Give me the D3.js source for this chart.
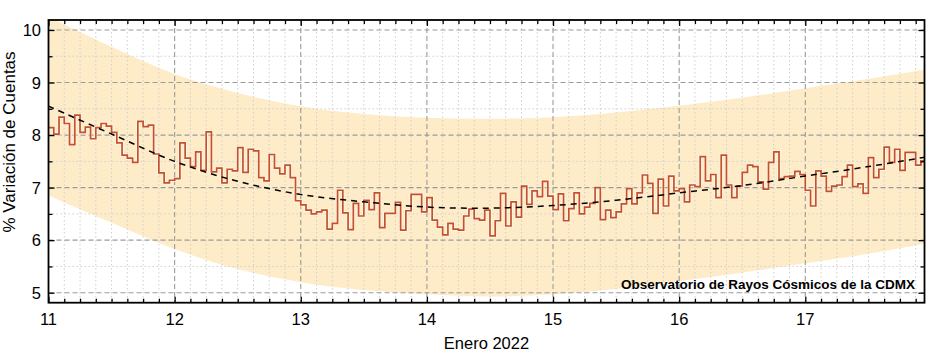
<!DOCTYPE html>
<html>
<head>
<meta charset="utf-8">
<script src="https://cdn.jsdelivr.net/npm/d3@7"></script>
<style>
  html, body { margin: 0; padding: 0; background: #fff; }
  text { font-family: "Liberation Sans", Arial, sans-serif; }
</style>
</head>
<body>
<svg id="chart" width="936" height="355"></svg>
<script>
// ---- data ----
const startDay = 11;              // Enero 11, 2022, 00:00
const hourlyValues = [
  // Jan 11
  8.14, 8.02, 8.34, 8.22, 7.82, 8.38, 8.05, 8.15, 7.93, 8.14, 8.22, 8.17,
  8.05, 7.85, 7.62, 7.56, 7.48, 8.26, 8.16, 8.19, 7.64, 7.28, 7.09, 7.14,
  // Jan 12
  7.17, 7.85, 7.56, 7.40, 7.68, 7.33, 8.06, 7.30, 7.37, 7.09, 7.35, 7.32,
  7.76, 7.29, 7.73, 7.70, 7.19, 7.13, 7.63, 7.37, 7.26, 7.43, 7.19, 6.75,
  // Jan 13
  6.67, 6.57, 6.50, 6.54, 6.57, 6.21, 6.32, 6.95, 6.52, 6.20, 6.70, 6.46,
  6.76, 6.58, 6.90, 6.24, 6.51, 6.51, 6.72, 6.19, 6.56, 6.87, 6.87, 6.54,
  // Jan 14
  6.81, 6.38, 6.25, 6.10, 6.32, 6.21, 6.19, 6.46, 6.59, 6.41, 6.38, 6.57,
  6.08, 6.37, 6.89, 6.27, 6.73, 6.44, 7.03, 6.68, 6.94, 6.83, 7.12, 6.84,
  // Jan 15
  6.58, 6.88, 6.37, 6.60, 6.90, 6.50, 6.63, 6.70, 7.00, 6.39, 6.57, 6.43,
  6.54, 6.69, 6.98, 6.69, 6.90, 7.24, 7.08, 6.51, 7.16, 6.65, 7.22, 6.94,
  // Jan 16
  6.98, 6.73, 7.05, 7.02, 7.59, 7.13, 7.25, 6.81, 7.62, 7.05, 6.81, 7.03,
  7.29, 7.43, 7.40, 7.11, 6.97, 7.48, 7.68, 7.17, 7.21, 7.22, 7.31, 7.25,
  // Jan 17
  6.95, 6.65, 7.32, 7.22, 6.93, 7.03, 7.05, 7.21, 7.43, 7.02, 7.07, 6.89,
  7.57, 7.19, 7.35, 7.77, 7.48, 7.73, 7.33, 7.67, 7.67, 7.43, 7.51
];
const trendDays  = [11, 11.5, 12, 12.5, 13, 13.5, 14, 14.5, 15, 15.5, 16, 16.5, 17, 17.5, 17.95];
const trendVals  = [8.55, 8.02, 7.50, 7.12, 6.87, 6.73, 6.63, 6.61, 6.66, 6.76, 6.90, 7.04, 7.22, 7.40, 7.58];
const bandUpper  = [10.25, 9.68, 9.16, 8.80, 8.55, 8.40, 8.33, 8.31, 8.34, 8.43, 8.56, 8.71, 8.89, 9.07, 9.25];
const bandLower  = [6.85, 6.33, 5.83, 5.45, 5.20, 5.05, 4.97, 4.93, 4.97, 5.07, 5.22, 5.38, 5.56, 5.74, 5.93];
const xTickLabels = [11, 12, 13, 14, 15, 16, 17];
const yTickLabels = [5, 6, 7, 8, 9, 10];
const xLabel = "Enero 2022";
const yLabel = "% Variación de Cuentas";
const credit = "Observatorio de Rayos Cósmicos de la CDMX";

// ---- layout ----
const L = 48.5, R = 924.5, T = 20, B = 302.7;
const svg = d3.select("#chart");
const x = d3.scaleLinear().domain([11, 17.945]).range([L, R]);
const y = d3.scaleLinear().domain([4.81, 10.19]).range([B, T]);

svg.append("defs").append("clipPath").attr("id", "plotclip")
  .append("rect").attr("x", L).attr("y", T).attr("width", R - L).attr("height", B - T);

const plot = svg.append("g").attr("clip-path", "url(#plotclip)");

// band
const bandData = trendDays.map((d, i) => ({d, u: bandUpper[i], l: bandLower[i]}));
plot.append("path")
  .datum(bandData)
  .attr("fill", "#feecc8")
  .attr("d", d3.area().curve(d3.curveCatmullRom)
    .x(p => x(p.d)).y0(p => y(p.l)).y1(p => y(p.u)));

// minor grid
const [xd0, xd1] = x.domain();
const [yd0, yd1] = y.domain();
const minorX = d3.range(11 * 8, 18 * 8 + 1).map(k => k / 8)
  .filter(v => v % 1 !== 0 && v > xd0 && v < xd1);
const minorY = d3.range(9, 22).map(k => k / 2)
  .filter(v => v % 1 !== 0 && v > yd0 && v < yd1);
const gGrid = plot.append("g");
gGrid.selectAll(".mx").data(minorX).join("line")
  .attr("x1", d => x(d)).attr("x2", d => x(d)).attr("y1", T).attr("y2", B)
  .attr("stroke", "#cfcfcf").attr("stroke-width", 1).attr("stroke-dasharray", "1.5,2.5");
gGrid.selectAll(".my").data(minorY).join("line")
  .attr("x1", L).attr("x2", R).attr("y1", d => y(d)).attr("y2", d => y(d))
  .attr("stroke", "#cfcfcf").attr("stroke-width", 1).attr("stroke-dasharray", "1.5,2.5");
// major grid
gGrid.selectAll(".Mx").data(xTickLabels.slice(1)).join("line")
  .attr("x1", d => x(d)).attr("x2", d => x(d)).attr("y1", T).attr("y2", B)
  .attr("stroke", "#9a9a9a").attr("stroke-width", 1.1).attr("stroke-dasharray", "5,3");
gGrid.selectAll(".My").data(yTickLabels).join("line")
  .attr("x1", L).attr("x2", R).attr("y1", d => y(d)).attr("y2", d => y(d))
  .attr("stroke", "#9a9a9a").attr("stroke-width", 1.1).attr("stroke-dasharray", "5,3");

// hourly step line
const stepPts = hourlyValues.map((v, i) => [startDay + i / 24, v]);
stepPts.push([startDay + hourlyValues.length / 24, hourlyValues[hourlyValues.length - 1]]);
const stepLine = d3.line().curve(d3.curveStepAfter).x(p => x(p[0])).y(p => y(p[1]));
plot.append("path").datum(stepPts)
  .attr("fill", "none").attr("stroke", "#ffffff").attr("stroke-opacity", 0.55)
  .attr("stroke-width", 3.4).attr("d", stepLine);
plot.append("path").datum(stepPts)
  .attr("fill", "none").attr("stroke", "#c4512c").attr("stroke-width", 1.7)
  .attr("d", stepLine);

// trend
plot.append("path")
  .datum(trendDays.map((d, i) => [d, trendVals[i]]))
  .attr("fill", "none").attr("stroke", "#000").attr("stroke-width", 1.5)
  .attr("stroke-dasharray", "6,5")
  .attr("d", d3.line().curve(d3.curveCatmullRom).x(p => x(p[0])).y(p => y(p[1])));

// axes (ticks inward on all four sides)
const xMajor = xTickLabels;
function addAxis(axisGen, transform) {
  const g = svg.append("g").attr("transform", transform).call(axisGen);
  g.select(".domain").remove();
  g.selectAll("text").remove();
  g.selectAll("line").attr("stroke", "#000").attr("stroke-width", 1.3);
  return g;
}
addAxis(d3.axisBottom(x).tickValues(xMajor).tickSize(-6), `translate(0,${B})`);
addAxis(d3.axisBottom(x).tickValues(minorX).tickSize(-4), `translate(0,${B})`);
addAxis(d3.axisTop(x).tickValues(xMajor).tickSize(-6), `translate(0,${T})`);
addAxis(d3.axisTop(x).tickValues(minorX).tickSize(-4), `translate(0,${T})`);
addAxis(d3.axisLeft(y).tickValues(yTickLabels).tickSize(-6), `translate(${L},0)`);
addAxis(d3.axisLeft(y).tickValues(minorY).tickSize(-4), `translate(${L},0)`);
addAxis(d3.axisRight(y).tickValues(yTickLabels).tickSize(-6), `translate(${R},0)`);
addAxis(d3.axisRight(y).tickValues(minorY).tickSize(-4), `translate(${R},0)`);

// frame
svg.append("rect").attr("x", L).attr("y", T).attr("width", R - L).attr("height", B - T)
  .attr("fill", "none").attr("stroke", "#000").attr("stroke-width", 1.8);

// tick labels
svg.append("g").selectAll("text").data(xTickLabels).join("text")
  .attr("x", d => x(d)).attr("y", 324.5).attr("text-anchor", "middle")
  .attr("font-size", 16.5).attr("fill", "#000").text(d => d);
svg.append("g").selectAll("text").data(yTickLabels).join("text")
  .attr("x", 41).attr("y", d => y(d) + 6).attr("text-anchor", "end")
  .attr("font-size", 16.5).attr("fill", "#000").text(d => d);

// axis titles
svg.append("text").attr("x", (L + R) / 2).attr("y", 349).attr("text-anchor", "middle")
  .attr("font-size", 16.5).attr("fill", "#000").text(xLabel);
svg.append("text").attr("transform", "translate(15,142) rotate(-90)")
  .attr("text-anchor", "middle").attr("font-size", 17).attr("fill", "#000").text(yLabel);

// credit
svg.append("text").attr("x", 915).attr("y", 288.5).attr("text-anchor", "end")
  .attr("font-size", 13.5).attr("font-weight", "bold").attr("fill", "#000").text(credit);
</script>
</body>
</html>
